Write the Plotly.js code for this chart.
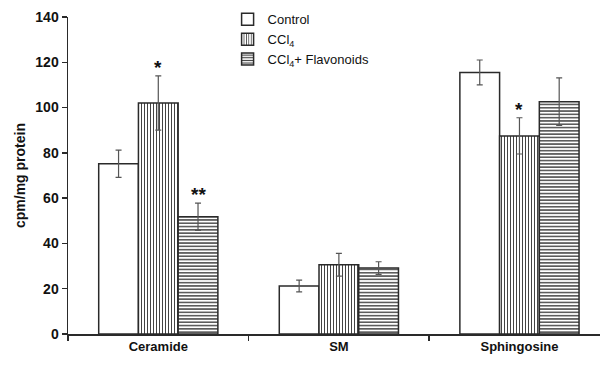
<!DOCTYPE html>
<html>
<head>
<meta charset="utf-8">
<script src="https://cdn.plot.ly/plotly-3.0.1.min.js"></script>
<style>html,body{margin:0;padding:0;background:#fff;}#chart{width:600px;height:368px;}</style>
</head>
<body>
<div id="chart"></div>
<script>
const categories = ["Ceramide", "SM", "Sphingosine"];
const seriesNames = ["Control", "CCl<sub>4</sub>", "CCl<sub>4</sub>+ Flavonoids"];
const controlValues = [75.2, 21.2, 115.5];
const controlErrors = [6, 2.6, 5.5];
const cclValues = [102, 30.6, 87.5];
const cclErrors = [12, 5, 8];
const flavValues = [51.8, 29.1, 102.6];
const flavErrors = [6, 2.8, 10.5];
const significance = [["*", "", "*"], ["**", "", ""]]; // CCl4, Flavonoids
const yTicks = [0, 20, 40, 60, 80, 100, 120, 140];

const lineCol = "#2a2a2a";
const errStyle = (arr) => ({type: "data", array: arr, visible: true, color: "#555", thickness: 1.2, width: 3});

const traces = [
  {type: "bar", name: seriesNames[0], x: categories, y: controlValues, error_y: errStyle(controlErrors),
   marker: {color: "#fff", line: {color: lineCol, width: 1.5}}},
  {type: "bar", name: seriesNames[1], x: categories, y: cclValues, error_y: errStyle(cclErrors),
   marker: {color: "#fff", line: {color: lineCol, width: 1.5},
            pattern: {shape: "|", size: 3, solidity: 0.35, fgcolor: "#444", bgcolor: "#fff"}}},
  {type: "bar", name: seriesNames[2], x: categories, y: flavValues, error_y: errStyle(flavErrors),
   marker: {color: "#fff", line: {color: lineCol, width: 1.5},
            pattern: {shape: "-", size: 3.3, solidity: 0.4, fgcolor: "#333", bgcolor: "#fff"}}}
];

const bargap = 0.34;
const barW = (1 - bargap) / 3;
const annotations = [];
[[cclValues, cclErrors, 0], [flavValues, flavErrors, 1]].forEach(([vals, errs, k]) => {
  vals.forEach((v, i) => {
    const s = significance[k][i];
    if (!s) return;
    annotations.push({x: i + (k === 0 ? 0 : barW), y: v + errs[i], xref: "x", yref: "y",
      text: "<b>" + s + "</b>", showarrow: false, yanchor: "bottom", yshift: -4,
      font: {family: "Arial, Liberation Sans", size: 19, color: "#111"}});
  });
});

const layout = {
  width: 600, height: 368,
  margin: {l: 68, r: 0, t: 17, b: 34},
  paper_bgcolor: "#fff", plot_bgcolor: "#fff",
  barmode: "group", bargap: bargap, bargroupgap: 0,
  showlegend: true,
  legend: {x: 0.30, y: 1.04, xanchor: "left", yanchor: "top", bgcolor: "rgba(0,0,0,0)",
           font: {family: "Arial, Liberation Sans", size: 13, color: "#111"},
           itemwidth: 30, tracegroupgap: 0},
  xaxis: {type: "category", range: [-0.5, 2.446], showline: true, linecolor: lineCol, linewidth: 1.5,
          ticks: "outside", tickson: "boundaries", ticklen: 5, tickcolor: lineCol, tickwidth: 1.5,
          tickfont: {family: "Arial, Liberation Sans", size: 13, color: "#111", weight: "bold"},
          showgrid: false, zeroline: false, fixedrange: true},
  yaxis: {range: [0, 140], tickvals: yTicks, showline: true, linecolor: lineCol, linewidth: 1.5,
          ticks: "outside", ticklen: 5, tickcolor: lineCol, tickwidth: 1.5,
          tickfont: {family: "Arial, Liberation Sans", size: 14, color: "#111", weight: "bold"},
          title: {text: "cpm/mg protein", font: {family: "Arial, Liberation Sans", size: 14, color: "#111", weight: "bold"}, standoff: 6},
          showgrid: false, zeroline: false},
  annotations: annotations
};

Plotly.newPlot("chart", traces, layout, {displayModeBar: false, staticPlot: true});
</script>
</body>
</html>
